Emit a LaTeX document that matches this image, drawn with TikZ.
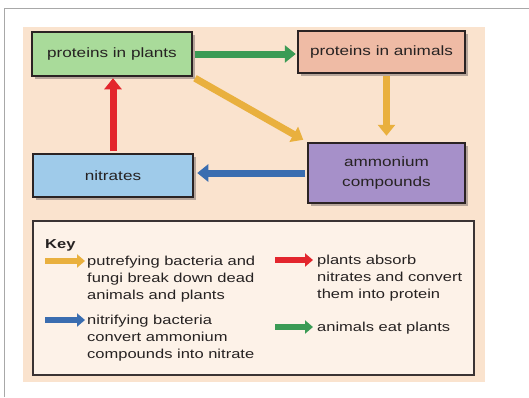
\documentclass[tikz,border=0pt]{standalone}
\usepackage{fontspec}
\setmainfont[FakeStretch=1.27]{Liberation Sans}
\usetikzlibrary{arrows.meta,shadows}
\definecolor{bgc}{HTML}{FAE3CE}
\definecolor{keybg}{HTML}{FDF2E8}
\definecolor{ppfill}{HTML}{A9DB9A}
\definecolor{pafill}{HTML}{EFBBA5}
\definecolor{nitfill}{HTML}{9FCBEA}
\definecolor{ammfill}{HTML}{A690C9}
\definecolor{grn}{HTML}{3B9B55}
\definecolor{yel}{HTML}{E9B03E}
\definecolor{redc}{HTML}{E3262D}
\definecolor{blu}{HTML}{3A6DB0}
\definecolor{boxline}{HTML}{2B2323}
\definecolor{keyline}{HTML}{3A3333}
\definecolor{txt}{HTML}{262222}
\definecolor{framec}{HTML}{A8A8A8}
\definecolor{shadowc}{HTML}{8A7C78}
\begin{document}
\begin{tikzpicture}[x=1pt,y=-1pt,
  box/.style={draw=boxline, line width=2.5pt, inner sep=0pt, text=txt,
    font=\fontsize{13.5}{20}\selectfont,
    drop shadow={shadow xshift=2.5pt, shadow yshift=-2.5pt, fill=shadowc, opacity=.6}},
  bigarrow/.style={line width=7pt, -{Triangle[length=11pt,width=17pt]}},
  keyarrow/.style={line width=6pt, -{Triangle[length=8pt,width=13pt]}},
  keytext/.style={anchor=base west, align=left, inner sep=0pt, text=txt,
    font=\fontsize{13}{17}\selectfont}]
\useasboundingbox (0,0) rectangle (529,397);
\fill[white] (0,0) rectangle (529,397);
\draw[framec, line width=1pt] (4,397) -- (4,8) -- (529,8);
\fill[bgc] (23,27) rectangle (485,382);

\node[box, fill=ppfill, minimum width=160pt, minimum height=44pt] (pp) at (112,54) {proteins in plants};
\node[box, fill=pafill, minimum width=167pt, minimum height=42pt] (pa) at (381.5,52) {proteins in animals};
\node[box, fill=nitfill, minimum width=160pt, minimum height=43pt] (nit) at (113,175.5) {nitrates};
\node[box, fill=ammfill, minimum width=157pt, minimum height=60pt, align=center] (amm) at (386.5,173) {ammonium\\compounds};

\draw[bigarrow, grn, shorten <=1.3pt, shorten >=1pt] (pp.east) -- (pp.east -| pa.west);
\draw[bigarrow, yel, shorten <=2pt, shorten >=4pt] (pp.south east) -- (amm.north west);
\draw[bigarrow, yel, shorten <=1.3pt, shorten >=6pt] (pa.south -| amm.north) -- (amm.north);
\draw[bigarrow, redc, shorten <=1.3pt, shorten >=1pt] (nit.north) -- (nit.north |- pp.south);
\draw[bigarrow, blu, shorten <=1.3pt, shorten >=3pt] (amm.west) -- (amm.west -| nit.east);

\node[draw=keyline, line width=1.5pt, fill=keybg, minimum width=441pt, minimum height=154pt, inner sep=0pt] (key) at (253.5,298) {};
\node[anchor=base west, inner sep=0pt, text=txt, font=\fontsize{13}{17}\selectfont\bfseries] (keyt) at (45,248) {Key};

\coordinate (ya) at (45,261); \coordinate (yb) at (85,261);
\coordinate (ba) at (45,320); \coordinate (bb) at (85,320);
\coordinate (ra) at (275,260); \coordinate (rb) at (313,260);
\coordinate (ga) at (275,327); \coordinate (gb) at (313,327);
\draw[keyarrow, yel] (ya) -- (yb);
\draw[keyarrow, blu] (ba) -- (bb);
\draw[keyarrow, redc] (ra) -- (rb);
\draw[keyarrow, grn] (ga) -- (gb);

\node[keytext] (t1) at (87,299) {putrefying bacteria and\\fungi break down dead\\animals and plants};
\node[keytext] (t2) at (87,358) {nitrifying bacteria\\convert ammonium\\compounds into nitrate};
\node[keytext] (t3) at (317,298) {plants absorb\\nitrates and convert\\them into protein};
\node[keytext] (t4) at (317,331) {animals eat plants};
\end{tikzpicture}
\end{document}
